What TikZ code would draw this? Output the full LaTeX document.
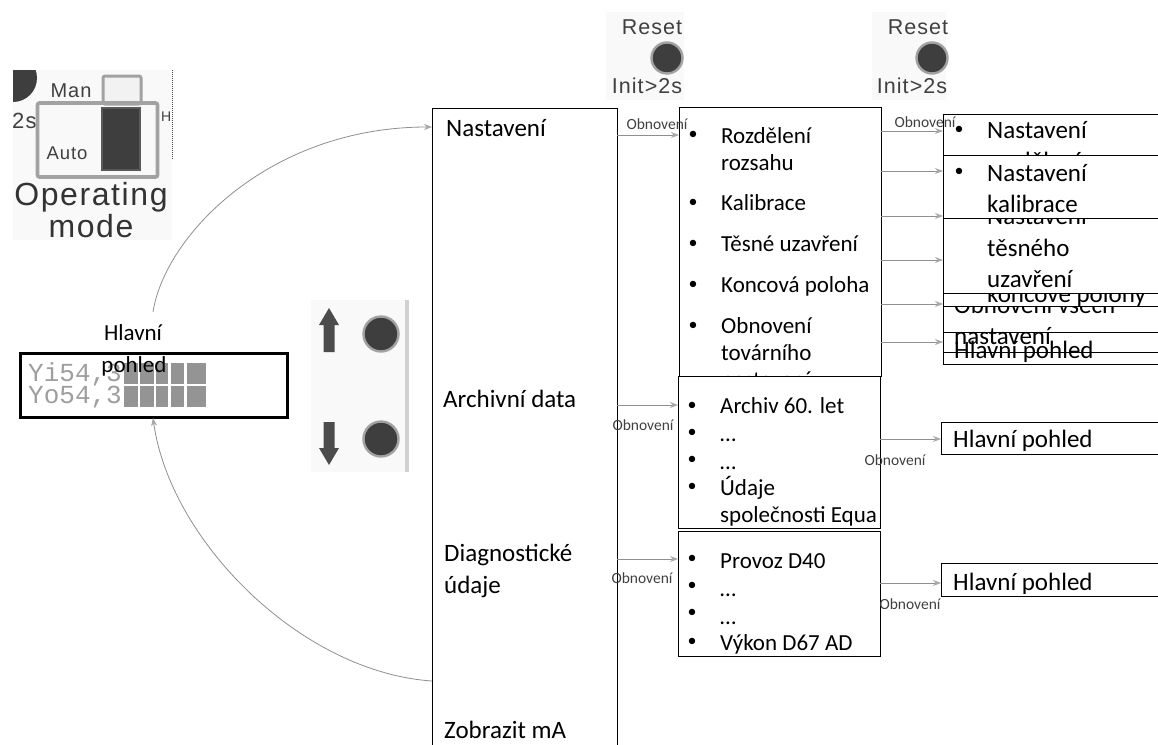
\documentclass[tikz,border=0pt]{standalone}
\usepackage{fontspec}
\setmainfont{Carlito}
\newfontfamily\opfont[LetterSpace=5]{Liberation Sans}
\newfontfamily\lcdfont{Liberation Mono}
\usetikzlibrary{arrows.meta}
\definecolor{panelbg}{HTML}{F9F9F9}
\definecolor{darkfill}{HTML}{3E3E3E}
\definecolor{ringgray}{HTML}{A2A2A2}
\definecolor{conngray}{HTML}{8F8F8F}
\definecolor{tipgray}{HTML}{A8A8A8}
\newcommand{\px}[1]{\fontsize{#1}{#1}\selectfont}
\tikzset{
  x=1pt,y=-1pt,
  listbox/.style={draw=black,fill=white,line width=.95pt,inner sep=0pt,outer sep=0pt},
  openbox/.style={draw=black,line width=.95pt,inner sep=0pt,outer sep=0pt},
  panel/.style={fill=panelbg,draw=none,inner sep=0pt,outer sep=0pt},
  mainlbl/.style={anchor=base west,inner sep=0pt,font=\px{25}},
  midlbl/.style={anchor=base west,inner sep=0pt,font=\px{23}},
  bul/.style={anchor=center,inner sep=0pt,font=\px{18}},
  small/.style={anchor=center,inner sep=0pt,font=\px{15.5},text=black!75},
  conn/.style={draw=conngray,line width=.8pt,-{Stealth[length=8pt,width=6pt,color=tipgray]}},
  devtxt/.style={anchor=center,inner sep=0pt,text=black!75,font=\opfont\px{21.5}},
  btn/.style={circle,draw=ringgray,fill=darkfill,line width=2.4pt,inner sep=0pt,outer sep=0pt,minimum size=31pt},
}
\newcommand{\bx}[6][listbox]{%
  \pgfmathsetmacro{\cxx}{(#3+#5)/2}\pgfmathsetmacro{\cyy}{(#4+#6)/2}%
  \pgfmathsetmacro{\www}{#5-#3}\pgfmathsetmacro{\hhh}{#6-#4}%
  \node[#1,minimum width=\www pt,minimum height=\hhh pt] (#2) at (\cxx,\cyy) {};}
\begin{document}
\begin{tikzpicture}
\useasboundingbox (0,0) rectangle (1158,744);
\clip (0,0) rectangle (1158,744);
\fill[white] (0,0) rectangle (1158,744);
% device panels
\bx[panel]{pOp}{13}{70}{172}{240}
\bx[panel]{pBtn}{311}{300}{409}{472}
\bx[panel]{pRa}{606}{12}{684}{100}
\bx[panel]{pRb}{872}{12}{946}{100}
\fill[black!18] (405,300) rectangle (409,472);
% operating mode
\begin{scope}
\clip (13,70) rectangle (172,240);
\fill[darkfill] (13,78) circle (24);
\end{scope}
\draw[black!70,densely dotted,line width=1pt] (172,70) -- (172,160);
\node[devtxt,font=\opfont\px{20}] (man) at (71,91) {Man};
\node[devtxt,font=\opfont\px{22},anchor=west] (twos) at (12,121) {2s};
\node[devtxt,font=\opfont\px{18.5}] (auto) at (67,153) {Auto};
\node[devtxt,font=\opfont\px{14},anchor=west] (hh) at (161,117) {H};
\bx[{draw=ringgray,fill=black!5,line width=3pt,rounded corners=2pt,inner sep=0pt}]{swman}{103}{76}{141}{104}
\node[draw=ringgray,line width=3.6pt,rounded corners=2pt,minimum width=120pt,minimum height=74pt,inner sep=0pt] (swframe) at (97.5,140) {};
\bx[{draw=black!65,fill=darkfill,line width=1.6pt,inner sep=0pt}]{swauto}{102}{108}{140}{170}
\node[anchor=center,inner sep=0pt,text=black!80,font=\opfont\px{32}] (opa) at (91,197) {Operating};
\node[anchor=center,inner sep=0pt,text=black!80,font=\opfont\px{32}] (opb) at (91,226) {mode};
% LCD
\bx[{draw=black,fill=white,line width=3pt,inner sep=0pt}]{lcd}{20}{353}{287}{417}
\node[anchor=west,inner sep=0pt,text=black!38,font=\lcdfont\px{26}] (ya) at (28,374) {Yi54,3};
\node[anchor=west,inner sep=0pt,text=black!38,font=\lcdfont\px{26}] (yb) at (28,397) {Yo54,3};
\foreach \xa/\xb in {124/138,140/154,156/168,171/184,187/206}{
  \fill[black!42] (\xa,363) rectangle (\xb,384);
  \fill[black!42] (\xa,386) rectangle (\xb,407);
}
\node[anchor=center,inner sep=0pt,font=\px{23}] (hla) at (133,333) {Hlavní};
\node[anchor=center,inner sep=0pt,font=\px{23}] (hlb) at (134,366) {pohled};
% up/down
\fill[black!70] (329,308) -- (339,325) -- (334.5,325) -- (334.5,352) -- (323.5,352) -- (323.5,325) -- (319,325) -- cycle;
\fill[black!70] (329,465) -- (339,448) -- (334.5,448) -- (334.5,422) -- (323.5,422) -- (323.5,448) -- (319,448) -- cycle;
\node[btn,minimum size=35pt] (bUp) at (381,334) {};
\node[btn,minimum size=35pt] (bDn) at (381,439) {};
% reset
\node[devtxt] (ra) at (652,27) {Reset};
\node[btn] (ca) at (667,58) {};
\node[devtxt] (ia) at (647,86) {Init>2s};
\node[devtxt] (rb) at (918,27) {Reset};
\node[btn] (cb) at (932,58) {};
\node[devtxt] (ib) at (912,86) {Init>2s};
% main column
\bx[openbox]{main}{432}{108}{617}{760}
\node[mainlbl] (m1) at (446,136) {Nastavení};
\node[mainlbl] (m2) at (443,407) {Archivní data};
\node[mainlbl] (m3) at (444,561) {Diagnostické};
\node[mainlbl] (m4) at (444,593) {údaje};
\node[mainlbl] (m5) at (444,738) {Zobrazit mA};
% list 1
\bx{L1}{679}{107}{881}{376}
\foreach \n/\y in {a/135,b/203,c/244,d/285,e/326}{\node[bul] (L1b\n) at (693,\y) {•};}
\node[midlbl] (L1a) at (721,143) {Rozdělení};
\node[midlbl] (L1aa) at (721,170) {rozsahu};
\node[midlbl] (L1c) at (721,210) {Kalibrace};
\node[midlbl] (L1d) at (721,251) {Těsné uzavření};
\node[midlbl] (L1e) at (721,292) {Koncová poloha};
\node[midlbl] (L1f) at (721,333) {Obnovení};
\node[midlbl] (L1g) at (721,360) {továrního};
\node[midlbl] (L1h) at (721,387) {nastavení};
% list 2
\bx{L2}{678}{376}{880}{528}
\foreach \n/\y in {a/406,b/433,c/460,d/487}{\node[bul] (L2b\n) at (692,\y) {•};}
\node[midlbl] (L2a) at (720,413) {Archiv 60. let};
\node[midlbl] (L2c) at (720,441) {…};
\node[midlbl] (L2d) at (720,469) {…};
\node[midlbl] (L2e) at (720,495) {Údaje};
\node[midlbl] (L2f) at (720,522) {společnosti Equa};
% list 3
\bx{L3}{678}{531}{880}{656}
\foreach \n/\y in {a/559,b/586,c/613,d/642}{\node[bul] (L3b\n) at (692,\y) {•};}
\node[midlbl] (L3a) at (720,568) {Provoz D40};
\node[midlbl] (L3c) at (720,596) {…};
\node[midlbl] (L3d) at (720,624) {…};
\node[midlbl] (L3e) at (720,650) {Výkon D67 AD};
% right column, stacked as in the picture
\bx[openbox]{R6}{943}{332}{1170}{364}
\node[mainlbl] (R6a) at (954,358) {Hlavní pohled};
\bx[openbox]{R5}{943}{306}{1170}{352}
\node[mainlbl] (R5a) at (954,313) {Obnovení všech};
\node[mainlbl] (R5b) at (954,344) {nastavení};
\bx{R4}{943}{293}{1170}{306}
\node[mainlbl] (R4a) at (987,302) {koncové polohy};
\bx{R3}{943}{218}{1170}{293}
\node[mainlbl] (R3a) at (987,224) {Nastavení};
\node[mainlbl] (R3b) at (987,256) {těsného};
\node[mainlbl] (R3c) at (987,287) {uzavření};
\bx{R1}{943}{114}{1170}{155}
\node[bul] (R1x) at (959,130) {•};
\node[mainlbl] (R1a) at (987,138) {Nastavení};
\node[mainlbl] (R1b) at (987,169) {rozdělení};
\bx{R2}{943}{155}{1170}{218}
\node[bul] (R2x) at (959,172) {•};
\node[mainlbl] (R2a) at (987,181) {Nastavení};
\node[mainlbl] (R2b) at (987,212) {kalibrace};
% the two lower targets
\bx{H2}{941}{422}{1170}{454}
\node[mainlbl] (H2a) at (953,447) {Hlavní pohled};
\bx{H3}{941}{563}{1170}{596}
\node[mainlbl] (H3a) at (953,590) {Hlavní pohled};
% connectors
\draw[conn] (main.east |- 0,135) -- (L1.west |- 0,135);
\draw[conn] (main.east |- 0,405) -- (L2.west |- 0,405);
\draw[conn] (main.east |- 0,559) -- (L3.west |- 0,559);
\foreach \y in {131,171,216,260,304,342}{\draw[conn] (L1.east |- 0,\y) -- (R1.west |- 0,\y);}
\draw[conn] (L2.east |- 0,439) -- (H2.west |- 0,439);
\draw[conn] (L3.east |- 0,583) -- (H3.west |- 0,583);
\node[small] (o1) at (657,124) {Obnovení};
\node[small] (o2) at (925,122) {Obnovení};
\node[small] (o3) at (643,425) {Obnovení};
\node[small] (o4) at (642,578) {Obnovení};
\node[small] (o5) at (895,460) {Obnovení};
\node[small] (o6) at (910,604) {Obnovení};
% loop curves
\coordinate (topstart) at (153,312);
\coordinate (botend) at (153,418);
\draw[conn] (topstart) .. controls (165,235) and (270,127) .. (main.west |- 0,127);
\draw[conn] (main.west |- 0,681) .. controls (300,672) and (170,540) .. (botend);
\end{tikzpicture}
\end{document}
